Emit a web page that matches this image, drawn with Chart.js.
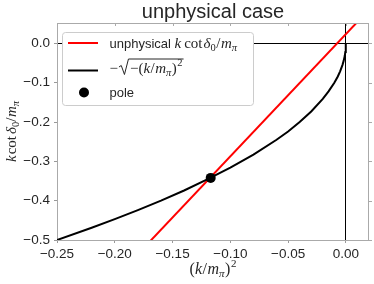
<!DOCTYPE html>
<html>
<head>
<meta charset="utf-8">
<script src="https://cdn.jsdelivr.net/npm/chart.js@4"></script>
<style>
  html, body { margin: 0; padding: 0; background: #fff; }
  canvas { display: block; }
</style>
</head>
<body>
<canvas id="chart" width="374" height="284"></canvas>
<script>
// ── Data ─────────────────────────────────────────────────────────────────────

const xTicks      = [-0.25, -0.20, -0.15, -0.10, -0.05, 0.00];
const xTickLabels = ['\u22120.25', '\u22120.20', '\u22120.15', '\u22120.10', '\u22120.05', '0.00'];
const yTicks      = [-0.5, -0.4, -0.3, -0.2, -0.1, 0.0];
const yTickLabels = ['\u22120.5', '\u22120.4', '\u22120.3', '\u22120.2', '\u22120.1', '0.0'];

// black curve  -sqrt(-(k/m)^2)
const curveX = [-0.25, -0.22, -0.20, -0.18, -0.16, -0.14, -0.12, -0.10, -0.08, -0.06,
                -0.05, -0.04, -0.03, -0.02, -0.015, -0.01, -0.007, -0.005, -0.003,
                -0.002, -0.001, -0.0005, -0.0002, 0.0];
const curveY = [-0.500, -0.469, -0.447, -0.424, -0.400, -0.374, -0.346, -0.316, -0.283, -0.245,
                -0.224, -0.200, -0.173, -0.141, -0.122, -0.100, -0.084, -0.071, -0.055,
                -0.045, -0.032, -0.022, -0.014, 0.000];

// red straight line  (unphysical k cot d0 / m)
const lineX = [-0.18, 0.02];
const lineY = [-0.536, 0.086];

// pole
const poleX = [-0.117];
const poleY = [-0.342];

// ── Helpers ──────────────────────────────────────────────────────────────────

const SANS  = '"Liberation Sans", Arial, sans-serif';
const SERIF = '"Liberation Serif", "Times New Roman", serif';
const INK   = '#262626';

const toPoints = (xs, ys) => xs.map((x, i) => ({ x, y: ys[i] }));

function runsWidth(ctx, runs) {
    let w = 0;
    runs.forEach(r => {
        ctx.font = r.f;
        w += (r.pre || 0) + ctx.measureText(r.t).width + (r.post || 0);
    });
    return w;
}

function drawRuns(ctx, runs, x, y) {
    runs.forEach(r => {
        ctx.font = r.f;
        x += r.pre || 0;
        ctx.fillText(r.t, x, y + (r.dy || 0));
        x += ctx.measureText(r.t).width + (r.post || 0);
    });
    return x;
}

const mi  = s => `italic ${s}px ${SERIF}`;
const mr  = s => `${s}px ${SERIF}`;

// ── Decorations: title, axis labels, frame, legend ───────────────────────────

const decorPlugin = {
    id: 'decor',
    afterDatasetsDraw(chart) {
        const { ctx, chartArea: a, scales } = chart;
        ctx.save();

        // top / right spines with small tick marks
        ctx.strokeStyle = '#aaaaaa';
        ctx.lineWidth = 1;
        ctx.beginPath();
        ctx.moveTo(a.left, a.top + 0.5);
        ctx.lineTo(a.right, a.top + 0.5);
        ctx.moveTo(a.right - 0.5, a.top);
        ctx.lineTo(a.right - 0.5, a.bottom);
        xTicks.forEach(v => {
            const px = Math.round(scales.x.getPixelForValue(v)) + 0.5;
            ctx.moveTo(px, a.top);
            ctx.lineTo(px, a.top + 3);
        });
        yTicks.forEach(v => {
            const py = Math.round(scales.y.getPixelForValue(v)) + 0.5;
            ctx.moveTo(a.right, py);
            ctx.lineTo(a.right + 3, py);
        });
        ctx.stroke();

        ctx.fillStyle = INK;
        ctx.textBaseline = 'alphabetic';
        ctx.textAlign = 'left';

        // title
        ctx.font = `20px ${SANS}`;
        ctx.textAlign = 'center';
        ctx.fillText('unphysical case', (a.left + a.right) / 2, 17.5);
        ctx.textAlign = 'left';

        // x label (k/m_pi)^2
        const xl = [
            { t: '(', f: mr(16) },
            { t: 'k', f: mi(16), post: 0.5 },
            { t: '/', f: mr(16), post: 0.5 },
            { t: 'm', f: mi(16) },
            { t: '\u03c0', f: mi(11), dy: 3 },
            { t: ')', f: mr(16), pre: 0.5 },
            { t: '2', f: mr(11), dy: -7, pre: 0.5 }
        ];
        drawRuns(ctx, xl, (a.left + a.right) / 2 - runsWidth(ctx, xl) / 2, 274);

        // y label  k cot d0 / m_pi
        const yl = [
            { t: 'k', f: mi(15), post: 1 },
            { t: 'cot', f: mr(15), post: 2 },
            { t: '\u03b4', f: mi(15) },
            { t: '0', f: mr(10.5), dy: 3 },
            { t: '/', f: mr(15), post: 0.5 },
            { t: 'm', f: mi(15) },
            { t: '\u03c0', f: mi(10.5), dy: 3 }
        ];
        ctx.save();
        ctx.translate(16, (a.top + a.bottom) / 2);
        ctx.rotate(-Math.PI / 2);
        drawRuns(ctx, yl, -runsWidth(ctx, yl) / 2, 0);
        ctx.restore();

        // legend box
        ctx.beginPath();
        ctx.roundRect(62.5, 32.5, 191, 73, 3);
        ctx.fillStyle = '#ffffff';
        ctx.fill();
        ctx.strokeStyle = '#cccccc';
        ctx.lineWidth = 1;
        ctx.stroke();

        // legend samples
        ctx.lineWidth = 2;
        ctx.strokeStyle = '#ff0000';
        ctx.beginPath(); ctx.moveTo(68, 43); ctx.lineTo(98, 43); ctx.stroke();
        ctx.strokeStyle = '#000000';
        ctx.beginPath(); ctx.moveTo(68, 70.5); ctx.lineTo(98, 70.5); ctx.stroke();
        ctx.fillStyle = '#000000';
        ctx.beginPath(); ctx.arc(84, 92.5, 5, 0, Math.PI * 2); ctx.fill();

        // legend texts
        ctx.fillStyle = INK;
        drawRuns(ctx, [
            { t: 'unphysical ', f: `13px ${SANS}` },
            { t: 'k', f: mi(15), post: 3 },
            { t: 'cot', f: mr(15), post: 1 },
            { t: '\u03b4', f: mi(15) },
            { t: '0', f: mr(10.5), dy: 3, post: 0.5 },
            { t: '/', f: mr(15), post: 0.5 },
            { t: 'm', f: mi(15) },
            { t: '\u03c0', f: mi(10.5), dy: 3 }
        ], 109.5, 48);

        // - sqrt( -(k/m_pi)^2 )
        const by = 72.5;
        let x = drawRuns(ctx, [{ t: '\u2212', f: mr(15), post: 1 }], 109.5, by);
        const inner = [
            { t: '\u2212', f: mr(15) },
            { t: '(', f: mr(15) },
            { t: 'k', f: mi(15), post: 0.5 },
            { t: '/', f: mr(15), post: 0.5 },
            { t: 'm', f: mi(15) },
            { t: '\u03c0', f: mi(10.5), dy: 3 },
            { t: ')', f: mr(15), pre: 0.5 },
            { t: '2', f: mr(10.5), dy: -7, pre: 0.5 }
        ];
        const innerEnd = x + 11 + runsWidth(ctx, inner);
        ctx.strokeStyle = INK;
        ctx.lineWidth = 1;
        ctx.beginPath();
        ctx.moveTo(x, by - 5.5);
        ctx.lineTo(x + 2.3, by - 7);
        ctx.lineTo(x + 5.5, by + 2);
        ctx.lineTo(x + 9.5, by - 13.5);
        ctx.lineTo(innerEnd + 1, by - 13.5);
        ctx.stroke();
        drawRuns(ctx, inner, x + 11, by);

        ctx.font = `13px ${SANS}`;
        ctx.fillText('pole', 109.5, 96.5);

        ctx.restore();
    }
};

// ── Chart ────────────────────────────────────────────────────────────────────

const zeroGrid = c => (c.tick && c.tick.value === 0) ? '#000000' : 'rgba(0,0,0,0)';

new Chart(document.getElementById('chart').getContext('2d'), {
    type: 'scatter',
    data: {
        datasets: [
            {
                label: 'pole',
                data: toPoints(poleX, poleY),
                backgroundColor: '#000000',
                borderWidth: 0,
                pointRadius: 5,
                order: 0
            },
            {
                label: '-sqrt(-(k/m)^2)',
                data: toPoints(curveX, curveY),
                showLine: true,
                borderColor: '#000000',
                borderWidth: 2,
                pointRadius: 0,
                tension: 0,
                clip: 0,
                order: 1
            },
            {
                label: 'unphysical k cot d0/m',
                data: toPoints(lineX, lineY),
                showLine: true,
                borderColor: '#ff0000',
                borderWidth: 2,
                pointRadius: 0,
                tension: 0,
                clip: 0,
                order: 2
            }
        ]
    },
    options: {
        responsive: false,
        animation: false,
        devicePixelRatio: 1,
        layout: { padding: { left: 0, right: 4, top: 23, bottom: 0 } },
        plugins: { legend: { display: false }, tooltip: { enabled: false } },
        scales: {
            x: {
                type: 'linear',
                min: -0.25,
                max: 0.02,
                afterBuildTicks: s => { s.ticks = xTicks.map(v => ({ value: v })); },
                afterFit: s => { s.height = 44; },
                ticks: {
                    callback: (v) => xTickLabels[xTicks.indexOf(v)],
                    font: { family: SANS, size: 13.5 },
                    color: INK,
                    padding: 3,
                    maxRotation: 0
                },
                grid: { color: zeroGrid, tickColor: '#999999', tickLength: 3, lineWidth: 1 },
                border: { display: true, color: '#aaaaaa', width: 1 }
            },
            y: {
                type: 'linear',
                min: -0.5,
                max: 0.052,
                afterBuildTicks: s => { s.ticks = yTicks.map(v => ({ value: v })); },
                afterFit: s => { s.width = 57; },
                ticks: {
                    callback: (v) => yTickLabels[yTicks.indexOf(v)],
                    font: { family: SANS, size: 13.5 },
                    color: INK,
                    padding: 4
                },
                grid: { color: zeroGrid, tickColor: '#999999', tickLength: 3, lineWidth: 1 },
                border: { display: true, color: '#aaaaaa', width: 1 }
            }
        }
    },
    plugins: [decorPlugin]
});
</script>
</body>
</html>
